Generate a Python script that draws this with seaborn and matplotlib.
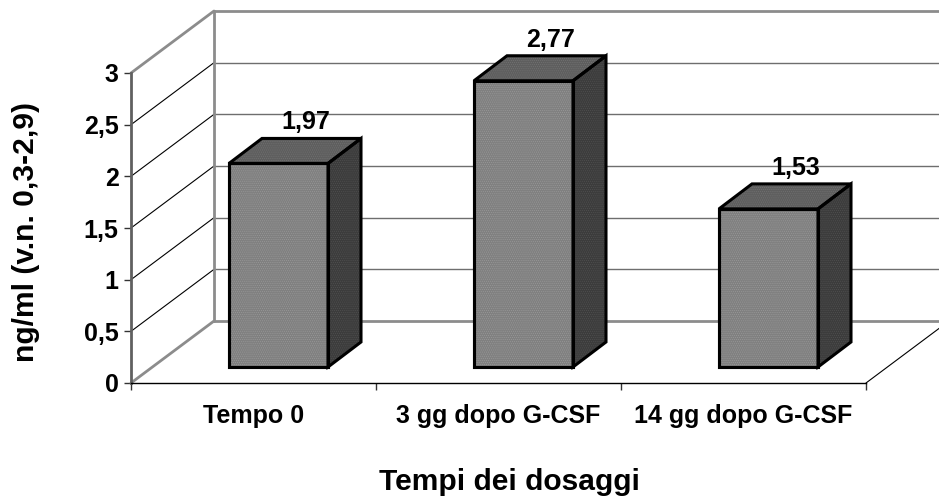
import matplotlib
matplotlib.use("Agg")
import matplotlib.pyplot as plt
from matplotlib.patches import Polygon, Rectangle
import pandas as pd
import seaborn as sns

categories = ["Tempo 0", "3 gg dopo G-CSF", "14 gg dopo G-CSF"]
values = [1.97, 2.77, 1.53]
value_labels = ["1,97", "2,77", "1,53"]
y_ticks = [0, 0.5, 1, 1.5, 2, 2.5, 3]
y_tick_labels = ["0", "0,5", "1", "1,5", "2", "2,5", "3"]
x_title = "Tempi dei dosaggi"
y_title = "ng/ml (v.n. 0,3-2,9)"

sns.set_style("white")
plt.rcParams["font.family"] = ["Liberation Sans", "DejaVu Sans"]
plt.rcParams["font.weight"] = "bold"
plt.rcParams["hatch.linewidth"] = 0.4

W, H = 939, 499
fig = plt.figure(figsize=(W / 100, H / 100), dpi=100)
ax = fig.add_axes([131 / W, (H - 383) / H, (866 - 131) / W, (383 - 73) / H])

df = pd.DataFrame({"tempo": categories, "valore": values})
sns.barplot(data=df, x="tempo", y="valore", ax=ax, width=99 / 245,
            color="#808080", saturation=1, edgecolor="black", linewidth=2.2,
            errorbar=None, zorder=5)
ax.set_xlim(-0.5, 2.5)
ax.set_ylim(0, 3)

px_x = 3 / (866 - 131)   # data units per pixel, x
px_y = 3 / (383 - 73)    # data units per pixel, y
wall_dx, wall_dy = 83 * px_x, 62 * px_y
bar_off_x, bar_off_y = 25 * px_x, 16 * px_y
depth_x, depth_y = 33 * px_x, 25 * px_y

GRAY = "#8c8c8c"
x0, x1 = -0.5, 2.5
line = dict(clip_on=False, solid_capstyle="round")

# Walls, floor and gridlines
for t in y_ticks[1:-1]:
    ax.plot([x0, x0 + wall_dx], [t, t + wall_dy], color="black", lw=0.8, zorder=1, **line)
    ax.plot([x0 + wall_dx, x1 + wall_dx], [t + wall_dy] * 2, color="#6e6e6e", lw=1.0, zorder=1, **line)
for t in (y_ticks[0], y_ticks[-1]):
    ax.plot([x0, x0 + wall_dx], [t, t + wall_dy], color=GRAY, lw=2.0, zorder=2, **line)
    ax.plot([x0 + wall_dx, x1 + wall_dx], [t + wall_dy] * 2, color=GRAY, lw=2.0, zorder=2, **line)
ax.plot([x0 + wall_dx] * 2, [wall_dy, 3 + wall_dy], color=GRAY, lw=2.0, zorder=2, **line)
ax.plot([x1, x1 + wall_dx], [0, wall_dy], color="black", lw=0.8, zorder=1, **line)

# Bars: move the fronts onto the mid-depth plane, then add top and side faces
bars = list(ax.patches)
for bar, val, label in zip(bars, values, value_labels):
    bar.set_x(bar.get_x() + bar_off_x)
    bar.set_y(bar_off_y)
    bar.set_clip_on(False)
    xl, xr = bar.get_x(), bar.get_x() + bar.get_width()
    yb, yt = bar_off_y, bar_off_y + val
    # dotted print texture on the front face, under its outline
    ax.add_patch(Rectangle((xl, yb), bar.get_width(), val, facecolor="none",
                           edgecolor="#9a9a9a", hatch="........", linewidth=0,
                           clip_on=False, zorder=5.1))
    ax.add_patch(Rectangle((xl, yb), bar.get_width(), val, facecolor="none",
                           edgecolor="black", linewidth=2.2, clip_on=False, zorder=5.2))
    faces = [
        ([(xl, yt), (xr, yt), (xr + depth_x, yt + depth_y), (xl + depth_x, yt + depth_y)], "#5e5e5e", "#747474"),
        ([(xr, yb), (xr + depth_x, yb + depth_y), (xr + depth_x, yt + depth_y), (xr, yt)], "#3c3c3c", "#525252"),
    ]
    for pts, col, dots in faces:
        ax.add_patch(Polygon(pts, closed=True, facecolor=col, edgecolor=dots,
                             hatch="........", linewidth=0, clip_on=False, zorder=5))
        ax.add_patch(Polygon(pts, closed=True, facecolor="none", edgecolor="black",
                             linewidth=2.2, joinstyle="miter", clip_on=False, zorder=5.2))
    ax.annotate(label, (xl + bar.get_width() / 2, yt), xytext=(27 * 0.72, 41 * 0.72),
                textcoords="offset points", ha="center", va="center",
                fontsize=18, fontweight="bold", color="black", zorder=8,
                annotation_clip=False)

# Axes
sns.despine(ax=ax, top=True, right=True)
ax.spines["left"].set_color("#606060")
ax.spines["left"].set_linewidth(2.0)
ax.spines["bottom"].set_color("black")
ax.spines["bottom"].set_linewidth(1.0)
ax.spines["left"].set_zorder(3)
ax.spines["bottom"].set_zorder(3)
ax.set_yticks(y_ticks)
ax.set_yticklabels(y_tick_labels, fontsize=18, fontweight="bold")
ax.set_xticks([0, 1, 2])
ax.set_xticklabels(categories, fontsize=18, fontweight="bold")
ax.set_xticks([-0.5, 0.5, 1.5, 2.5], minor=True)
ax.tick_params(axis="y", left=True, length=5, width=1.0, color="#333333", pad=4, labelcolor="black")
ax.tick_params(axis="x", which="major", bottom=False, length=0, pad=15, labelcolor="black")
ax.tick_params(axis="x", which="minor", bottom=True, length=5, width=1.0, color="#333333")

ax.set_xlabel("")
ax.set_ylabel("")
fig.text(509 / W, (H - 482) / H, x_title, ha="center", va="center",
         fontsize=21.6, fontweight="bold", color="black")
fig.text(26 / W, (H - 232) / H, y_title, ha="center", va="center", rotation=90,
         fontsize=21.6, fontweight="bold", color="black")

fig.savefig("out.png", dpi=100, facecolor="white")
